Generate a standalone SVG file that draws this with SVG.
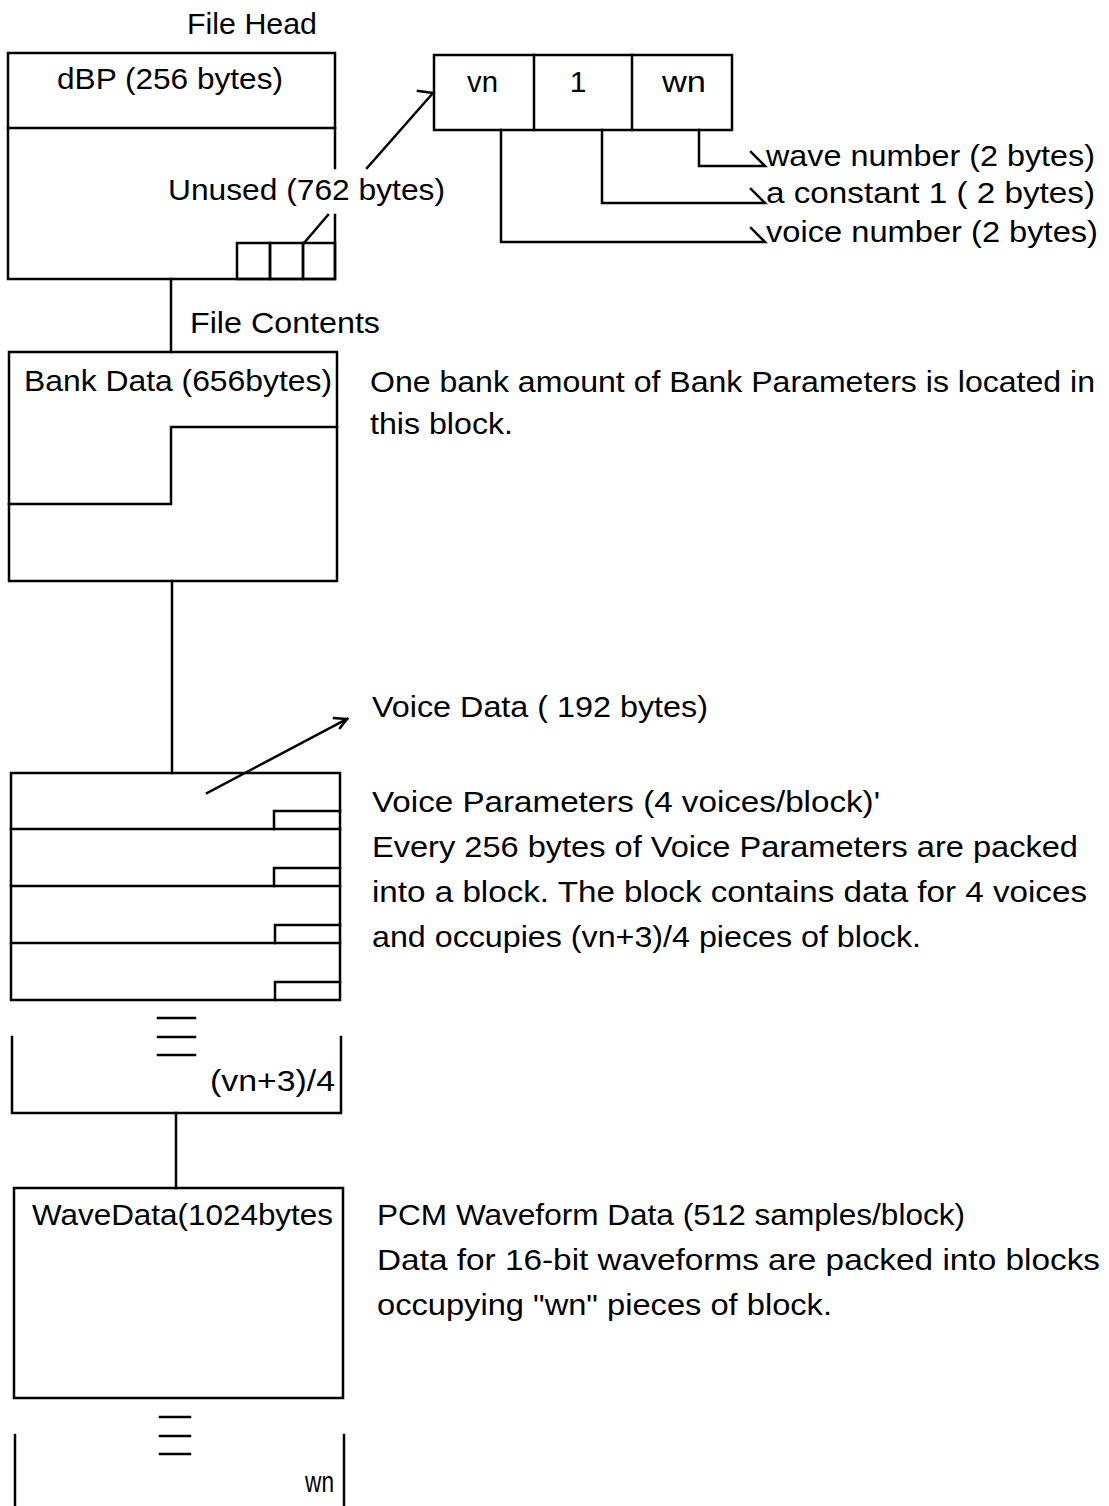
<svg xmlns="http://www.w3.org/2000/svg" width="1109" height="1506" viewBox="0 0 1109 1506">
<style>
  .ln{fill:none;stroke:#000;stroke-width:2.5;stroke-linecap:square}
  .t{font-family:"Liberation Sans",Arial,sans-serif;font-size:30px;fill:#000}
  .m{text-anchor:middle}
</style>
<rect width="1109" height="1506" fill="#fff"/>

<g id="connectors" class="ln">
  <line x1="171" y1="279" x2="171" y2="352"/>
  <line x1="172" y1="581" x2="172" y2="773"/>
  <line x1="176" y1="1113" x2="176" y2="1188"/>
  <!-- Unused -> record -->
  <polyline points="367,168 433,93 418,91"/>
  <line x1="304" y1="243" x2="328" y2="215"/>
  <!-- record legs -->
  <polyline points="699,130 699,166 765,166 751,152"/>
  <polyline points="602,130 602,203 765,203 751,189"/>
  <polyline points="501,130 501,242 765,242 751,228"/>
  <!-- voice data pointer -->
  <polyline points="207,793 347,719"/>
  <polyline points="334,718 347,719 340,728"/>
</g>

<g id="file-head">
  <text class="t" x="187" y="34" textLength="130" lengthAdjust="spacingAndGlyphs">File Head</text>
  <polyline class="ln" points="335,168 335,53 8,53 8,279 335,279 335,215"/>
  <line class="ln" x1="8" y1="128" x2="335" y2="128"/>
  <text class="t" x="57" y="89" textLength="226" lengthAdjust="spacingAndGlyphs">dBP (256 bytes)</text>
  <text class="t" x="168" y="200" textLength="277" lengthAdjust="spacingAndGlyphs">Unused (762 bytes)</text>
  <rect class="ln" x="237" y="243" width="33" height="36"/>
  <rect class="ln" x="270" y="243" width="33" height="36"/>
  <rect class="ln" x="303" y="243" width="32" height="36"/>
</g>

<g id="record">
  <rect class="ln" x="434" y="55" width="298" height="75"/>
  <line class="ln" x1="534" y1="55" x2="534" y2="130"/>
  <line class="ln" x1="632" y1="55" x2="632" y2="130"/>
  <text class="t" x="467" y="92" textLength="31" lengthAdjust="spacingAndGlyphs">vn</text>
  <text class="t m" x="578" y="92">1</text>
  <text class="t" x="662" y="92" textLength="44" lengthAdjust="spacingAndGlyphs">wn</text>
</g>

<g id="record-labels">
  <text class="t" x="766" y="166" textLength="329" lengthAdjust="spacingAndGlyphs">wave number (2 bytes)</text>
  <text class="t" x="766" y="203" textLength="329" lengthAdjust="spacingAndGlyphs">a constant 1 ( 2 bytes)</text>
  <text class="t" x="766" y="242" textLength="332" lengthAdjust="spacingAndGlyphs">voice number (2 bytes)</text>
</g>

<g id="bank-data">
  <text class="t" x="190" y="333" textLength="190" lengthAdjust="spacingAndGlyphs">File Contents</text>
  <rect class="ln" x="9" y="352" width="328" height="229"/>
  <polyline class="ln" points="337,427 171,427 171,504 9,504"/>
  <text class="t" x="24" y="391" textLength="308" lengthAdjust="spacingAndGlyphs">Bank Data (656bytes)</text>
  <text class="t" x="370" y="392" textLength="725" lengthAdjust="spacingAndGlyphs">One bank amount of Bank Parameters is located in</text>
  <text class="t" x="370" y="434" textLength="143" lengthAdjust="spacingAndGlyphs">this block.</text>
</g>

<g id="voice-data">
  <rect class="ln" x="11" y="773" width="329" height="227"/>
  <line class="ln" x1="11" y1="829" x2="340" y2="829"/>
  <line class="ln" x1="11" y1="886" x2="340" y2="886"/>
  <line class="ln" x1="11" y1="943" x2="340" y2="943"/>
  <polyline class="ln" points="274,829 274,811 340,811"/>
  <polyline class="ln" points="274,886 274,868 340,868"/>
  <polyline class="ln" points="275,943 275,925 340,925"/>
  <polyline class="ln" points="275,1000 275,982 340,982"/>
  <text class="t" x="372" y="717" textLength="336" lengthAdjust="spacingAndGlyphs">Voice Data ( 192 bytes)</text>
  <text class="t" x="372" y="812" textLength="508" lengthAdjust="spacingAndGlyphs">Voice Parameters (4 voices/block)'</text>
  <text class="t" x="372" y="857" textLength="706" lengthAdjust="spacingAndGlyphs">Every 256 bytes of Voice Parameters are packed</text>
  <text class="t" x="372" y="902" textLength="715" lengthAdjust="spacingAndGlyphs">into a block. The block contains data for 4 voices</text>
  <text class="t" x="372" y="947" textLength="549" lengthAdjust="spacingAndGlyphs">and occupies (vn+3)/4 pieces of block.</text>
</g>

<g id="voice-continuation">
  <line class="ln" x1="158" y1="1018" x2="195" y2="1018"/>
  <line class="ln" x1="158" y1="1037" x2="195" y2="1037"/>
  <line class="ln" x1="158" y1="1055" x2="195" y2="1055"/>
  <polyline class="ln" points="12,1037 12,1113 341,1113 341,1037"/>
  <text class="t" x="210" y="1091" textLength="125" lengthAdjust="spacingAndGlyphs">(vn+3)/4</text>
</g>

<g id="wave-data">
  <rect class="ln" x="14" y="1188" width="329" height="210"/>
  <text class="t" x="32" y="1225" textLength="301" lengthAdjust="spacingAndGlyphs">WaveData(1024bytes</text>
  <text class="t" x="377" y="1225" textLength="588" lengthAdjust="spacingAndGlyphs">PCM Waveform Data (512 samples/block)</text>
  <text class="t" x="377" y="1270" textLength="723" lengthAdjust="spacingAndGlyphs">Data for 16-bit waveforms are packed into blocks</text>
  <text class="t" x="377" y="1315" textLength="455" lengthAdjust="spacingAndGlyphs">occupying "wn" pieces of block.</text>
</g>

<g id="wave-continuation">
  <line class="ln" x1="160" y1="1417" x2="190" y2="1417"/>
  <line class="ln" x1="160" y1="1436" x2="190" y2="1436"/>
  <line class="ln" x1="160" y1="1454" x2="190" y2="1454"/>
  <line class="ln" x1="15" y1="1435" x2="15" y2="1506"/>
  <line class="ln" x1="344" y1="1435" x2="344" y2="1506"/>
  <text class="t" x="305" y="1492" textLength="29" lengthAdjust="spacingAndGlyphs">wn</text>
</g>
</svg>
